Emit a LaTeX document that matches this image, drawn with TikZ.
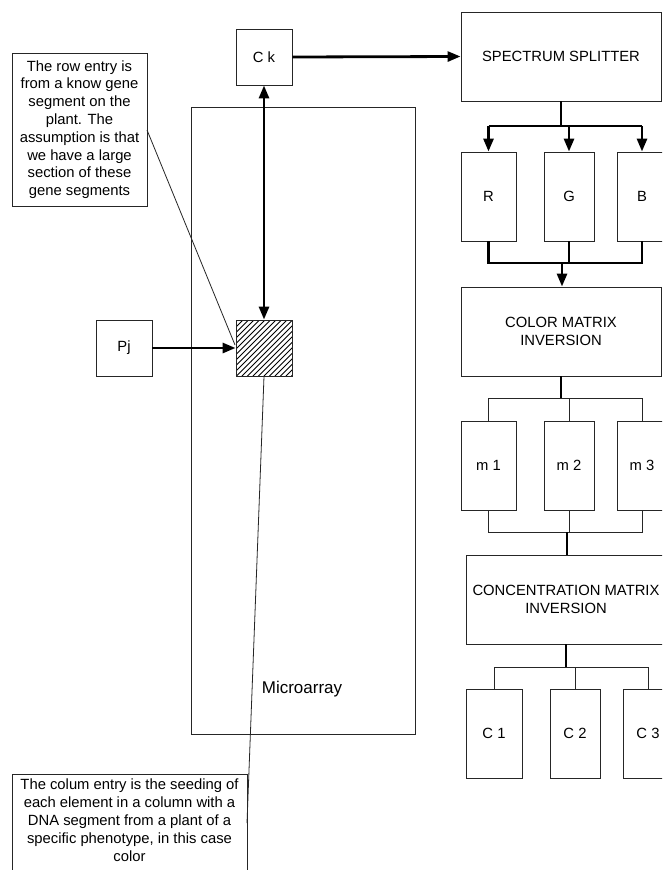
\documentclass[tikz,border=0pt]{standalone}
\usepackage{fontspec}
\setmainfont{Liberation Sans}
\usetikzlibrary{arrows.meta}
\tikzset{
  box/.style={draw=black!85, line width=0.9pt, inner sep=0pt, align=center,
              font=\fontsize{14.8}{17.8}\selectfont},
  thin/.style={draw=black!85, line width=0.9pt},
  thk/.style={draw=black, line width=2.8pt},
  arr/.style={thk, -{Triangle[length=13pt,width=10pt]}},
  darr/.style={thk, {Triangle[length=13pt,width=10pt]}-{Triangle[length=13pt,width=10pt]}},
  note/.style={align=center, font=\fontsize{14.8}{17.8}\selectfont, inner sep=0pt},
}
\begin{document}
\begin{tikzpicture}[x=1pt,y=-1pt]
\clip (0,0) rectangle (662,870);
\fill[white] (0,0) rectangle (662,870);

% microarray
\node[box, minimum width=224pt, minimum height=627pt] (ma) at (303,420.5) {};
\node[note, font=\fontsize{17}{20}\selectfont] (malab) at (302,689) {Microarray};

% left side
\node[box, minimum width=56pt, minimum height=56pt] (ck) at (264,57) {C k};
\node[box, minimum width=56pt, minimum height=56pt] (pj) at (124,348) {Pj};
\node[box, fill=white, minimum width=56pt, minimum height=56pt] (ht) at (264,348) {};
\begin{scope}
  \clip (236,320) rectangle (292,376);
  \foreach \i in {-60,-54.5,...,60} {
    \draw[line width=0.8pt] (236+\i,376) -- (236+\i+56,320);
  }
\end{scope}
\draw[draw=black!85, line width=0.9pt] (236,320) rectangle (292,376);

% callouts
\node[box, minimum width=135pt, minimum height=153pt] (c1) at (79.5,129.5)
  {The row entry is\\from a know gene\\segment on the\\plant. The\\assumption is that\\we have a large\\section of these\\gene segments};
\draw[draw=black!85, line width=0.9pt] (12,774) rectangle (247,900);
\coordinate (c2e) at (247,823);
\node[note, anchor=north] (c2) at (129.5,779)
  {The colum entry is the seeding of\\each element in a column with a\\DNA segment from a plant of a\\specific phenotype, in this case\\color};

% right column
\node[box, minimum width=200pt, minimum height=89pt] (sp) at (561,56.5) {SPECTRUM SPLITTER};
\node[box, minimum width=55pt, minimum height=89pt] (r) at (488.5,196.5) {R};
\node[box, minimum width=50pt, minimum height=89pt] (g) at (569,196.5) {G};
\node[box, minimum width=50pt, minimum height=89pt] (b) at (642,196.5) {B};
\node[box, minimum width=200pt, minimum height=89pt] (cm) at (561,331.5) {COLOR MATRIX\\INVERSION};
\node[box, minimum width=55pt, minimum height=89pt] (m1) at (488.5,465.5) {m 1};
\node[box, minimum width=50pt, minimum height=89pt] (m2) at (569,465.5) {m 2};
\node[box, minimum width=50pt, minimum height=89pt] (m3) at (642,465.5) {m 3};
\node[box, minimum width=200pt, minimum height=89pt] (cc) at (566,599.5) {CONCENTRATION MATRIX\\INVERSION};
\node[box, minimum width=56pt, minimum height=89pt] (k1) at (494,733.5) {C 1};
\node[box, minimum width=50pt, minimum height=89pt] (k2) at (575,733.5) {C 2};
\node[box, minimum width=50pt, minimum height=89pt] (k3) at (648,733.5) {C 3};

% junction coordinates
\coordinate (j1) at (561,126);
\coordinate (j2) at (562,263);
\coordinate (j3) at (561,398);
\coordinate (j4) at (567,532);
\coordinate (j5) at (566,667);

% connectors
\draw[arr] (ck.east) -- (sp.west);
\draw[darr] (ck.south) -- (ht.north);
\draw[arr] (pj.east) -- (ht.west);

\draw[thk] (sp.south) -- (j1);
\draw[thk] (j1 -| r.north) -- (j1 -| b.north);
\draw[arr] (j1 -| r.north) -- (r.north);
\draw[arr] (j1 -| g.north) -- (g.north);
\draw[arr] (j1 -| b.north) -- (b.north);

\draw[thk] (r.south) -- (r.south |- j2) -- (b.south |- j2) -- (b.south);
\draw[thk] (g.south) -- (g.south |- j2);
\draw[arr] (j2) -- (j2 |- cm.north);

\draw[thk] (cm.south) -- (j3);
\draw[thin] (m1.north) -- (m1.north |- j3) -- (m3.north |- j3) -- (m3.north);
\draw[thin] (m2.north) -- (m2.north |- j3);

\draw[thin] (m1.south) -- (m1.south |- j4) -- (m3.south |- j4) -- (m3.south);
\draw[thin] (m2.south) -- (m2.south |- j4);
\draw[thk] (j4) -- (j4 |- cc.north);

\draw[thk] (cc.south) -- (j5);
\draw[thin] (k1.north) -- (k1.north |- j5) -- (k3.north |- j5) -- (k3.north);
\draw[thin] (k2.north) -- (k2.north |- j5);

% callout leaders
\draw[thin, line width=0.8pt] (147,130) -- (235,345);
\draw[thin, line width=0.8pt] (ht.south) -- (c2e);
\end{tikzpicture}
\end{document}
